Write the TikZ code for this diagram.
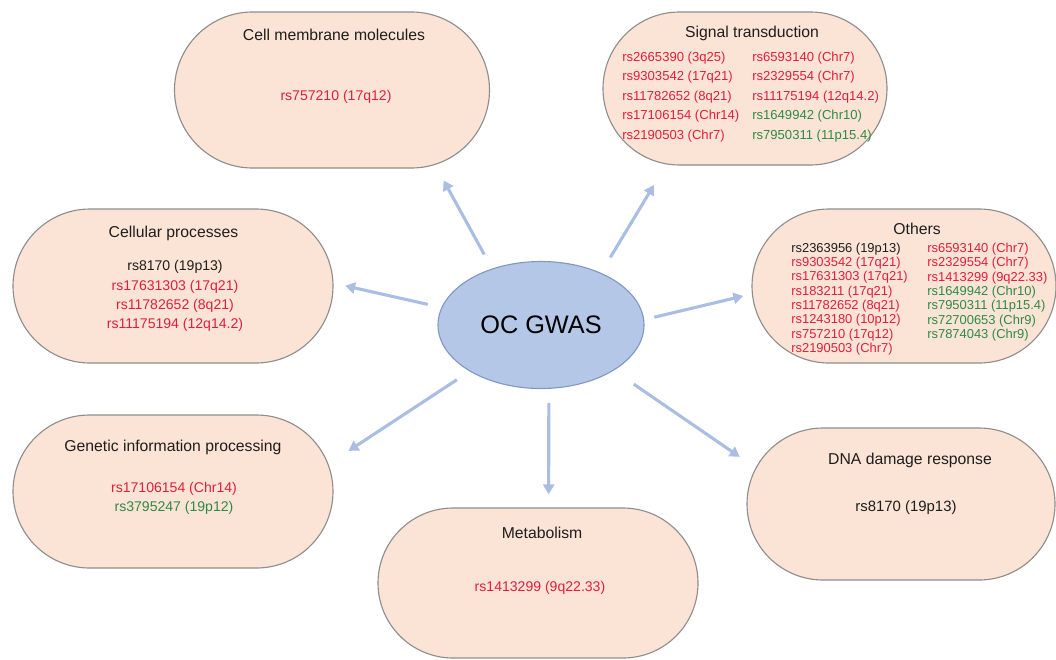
\documentclass[tikz,border=0pt]{standalone}
\usepackage{fontspec}
\setmainfont{Liberation Sans}
\usetikzlibrary{shapes.misc,shapes.geometric,arrows.meta}
\definecolor{boxfill}{HTML}{FBE3D5}
\definecolor{boxline}{HTML}{8E8E8E}
\definecolor{gwasfill}{HTML}{B4C7E7}
\definecolor{gwasline}{HTML}{8197C4}
\definecolor{linkblue}{HTML}{A9BEE2}
\definecolor{snpred}{HTML}{E31E3C}
\definecolor{snpgreen}{HTML}{2E8B45}
\definecolor{snpblack}{HTML}{1E1E1E}
\newcommand{\snpr}[1]{\textcolor{snpred}{#1}}
\newcommand{\snpg}[1]{\textcolor{snpgreen}{#1}}
\newcommand{\snpk}[1]{\textcolor{snpblack}{#1}}
\tikzset{
  pathway/.style 2 args={rounded rectangle, draw=boxline, fill=boxfill,
    line width=0.8pt, inner sep=0pt,
    minimum width=#1*0.25mm, minimum height=#2*0.25mm},
  pwtitle/.style={font=\fontsize{11.2}{13}\selectfont, text=snpblack, inner sep=0pt},
  snps/.style={font=\fontsize{10}{13.6}\selectfont, inner sep=0pt, align=center},
  snpcol/.style={font=\fontsize{9.3}{13.9}\selectfont, inner sep=0pt, align=left, anchor=west},
  link/.style={draw=linkblue, line width=2.2pt, -{Triangle[length=7pt,width=8pt]}}
}

\begin{document}
\begin{tikzpicture}[x=0.25mm,y=-0.25mm]
  \useasboundingbox (0,0) rectangle (1056,659);

  \node[ellipse, draw=gwasline, fill=gwasfill, line width=0.8pt, inner sep=0pt,
    minimum width=206*0.25mm, minimum height=127*0.25mm,
    font=\fontsize{18}{20}\selectfont] (gwas) at (541,325) {OC GWAS};

  % pathway boxes
  \node[pathway={315}{156}] (cmm) at (332,90) {};
  \node[pathway={284}{153}] (sig) at (745,88.5) {};
  \node[pathway={320}{154}] (cel) at (173,286) {};
  \node[pathway={304}{154}] (oth) at (904,286) {};
  \node[pathway={320}{153}] (gen) at (173,491.5) {};
  \node[pathway={320}{150}] (met) at (538,583) {};
  \node[pathway={308}{152}] (dna) at (901,504) {};

  \node[pwtitle] (cmm-t) at (334,35) {Cell membrane molecules};
  \node[pwtitle] (sig-t) at (752,33) {Signal transduction};
  \node[pwtitle] (cel-t) at (173.5,233) {Cellular processes};
  \node[pwtitle] (oth-t) at (917,229) {Others};
  \node[pwtitle] (gen-t) at (173,447) {Genetic information processing};
  \node[pwtitle] (met-t) at (542,533) {Metabolism};
  \node[pwtitle] (dna-t) at (910,460) {DNA damage response};

  % SNP lists
  \node[snps] (cmm-s) at (336,97) {\snpr{rs757210 (17q12)}};
  \node[snpcol] (sig-a) at (622,97) {\snpr{rs2665390 (3q25)}\\ \snpr{rs9303542 (17q21)}\\
    \snpr{rs11782652 (8q21)}\\ \snpr{rs17106154 (Chr14)}\\ \snpr{rs2190503 (Chr7)}};
  \node[snpcol] (sig-b) at (752,97) {\snpr{rs6593140 (Chr7)}\\ \snpr{rs2329554 (Chr7)}\\
    \snpr{rs11175194 (12q14.2)}\\ \snpg{rs1649942 (Chr10)}\\ \snpg{rs7950311 (11p15.4)}};
  \node[snps] (cel-s) at (175,296) {\snpk{rs8170 (19p13)}\\ \snpr{rs17631303 (17q21)}\\
    \snpr{rs11782652 (8q21)}\\ \snpr{rs11175194 (12q14.2)}};
  \node[snpcol, font=\fontsize{9.2}{10.2}\selectfont] (oth-a) at (791,299) {\snpk{rs2363956 (19p13)}\\
    \snpr{rs9303542 (17q21)}\\ \snpr{rs17631303 (17q21)}\\ \snpr{rs183211 (17q21)}\\
    \snpr{rs11782652 (8q21)}\\ \snpr{rs1243180 (10p12)}\\ \snpr{rs757210 (17q12)}\\
    \snpr{rs2190503 (Chr7)}};
  \node[snpcol, font=\fontsize{9.2}{10.2}\selectfont] (oth-b) at (927,292) {\snpr{rs6593140 (Chr7)}\\
    \snpr{rs2329554 (Chr7)}\\ \snpr{rs1413299 (9q22.33)}\\ \snpg{rs1649942 (Chr10)}\\
    \snpg{rs7950311 (11p15.4)}\\ \snpg{rs72700653 (Chr9)}\\ \snpg{rs7874043 (Chr9)}};
  \node[snps] (gen-s) at (174,498) {\snpr{rs17106154 (Chr14)}\\ \snpg{rs3795247 (19p12)}};
  \node[snps] (met-s) at (540,588) {\snpr{rs1413299 (9q22.33)}};
  \node[snps, font=\fontsize{10.6}{13}\selectfont] (dna-s) at (906,508) {\snpk{rs8170 (19p13)}};

  % links out of the centre
  \draw[link, shorten <=4mm, shorten >=4.4mm] (gwas.131) -- (cmm.-36);
  \draw[link, shorten <=4.5mm, shorten >=6mm] (gwas.41) -- (sig.-136);
  \draw[link, shorten <=3.5mm, shorten >=3mm] (gwas.170) -- (cel.1);
  \draw[link, shorten <=2.6mm, shorten >=2.2mm] (gwas.3) -- (oth.-177);
  \draw[link, shorten <=3.8mm, shorten >=6mm] (gwas.-147) -- (gen.10);
  \draw[link, shorten <=3.5mm, shorten >=3.3mm] (gwas.-83) -- (met.82);
  \draw[link, shorten <=6mm, shorten >=4.8mm] (gwas.-32) -- (dna.166);
\end{tikzpicture}
\end{document}
